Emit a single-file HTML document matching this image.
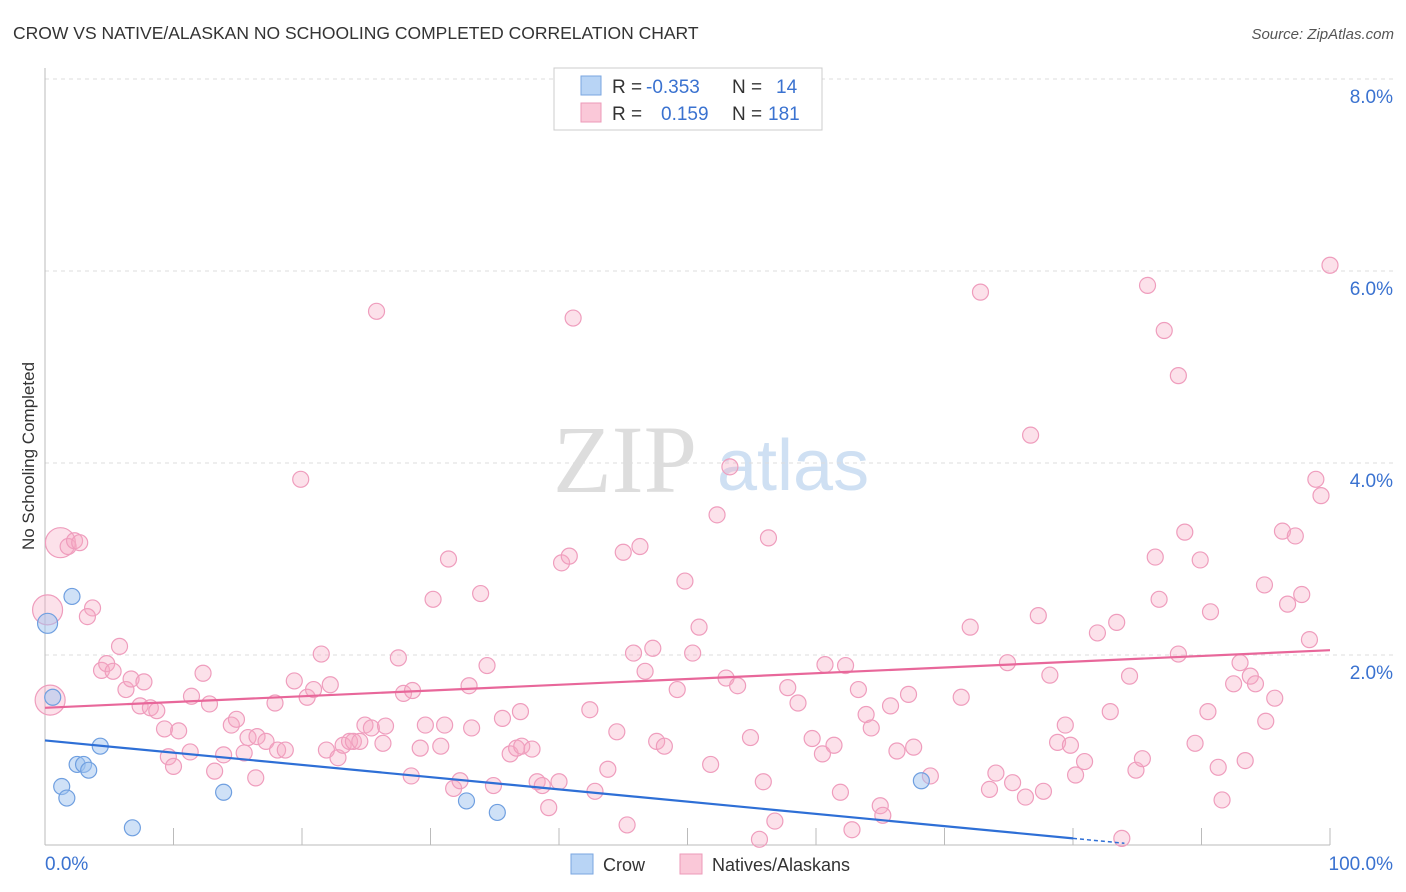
<!DOCTYPE html>
<html><head><meta charset="utf-8"><style>
body{margin:0;background:#fff;font-family:"Liberation Sans",sans-serif;}
svg{display:block}
</style></head><body>
<svg id="chart" width="1406" height="892" xmlns="http://www.w3.org/2000/svg">
<text x="13" y="39" font-size="17.5" fill="#333">CROW VS NATIVE/ALASKAN NO SCHOOLING COMPLETED CORRELATION CHART</text>
<text x="1394" y="39" font-size="15" fill="#555" font-style="italic" text-anchor="end">Source: ZipAtlas.com</text>
<text transform="translate(34,456) rotate(-90)" font-size="17" fill="#333" text-anchor="middle">No Schooling Completed</text>
<g>
<text x="553" y="492" font-family="Liberation Serif,serif" font-size="96" fill="#ddd">ZIP</text>
<text x="717" y="490" font-size="72" fill="#cfe0f3">atlas</text>
</g>
<g id="grid"></g>
<g id="axes"></g>
<g id="pinkpts"></g>
<g id="bluepts"></g>
<g id="trends"></g>
<g>
<rect x="554" y="68" width="268" height="62" fill="#fff" stroke="#ccc"/>
<rect x="581" y="76" width="20" height="19" fill="#b8d4f5" stroke="#7aa6e0"/>
<rect x="581" y="103" width="20" height="19" fill="#fac8d8" stroke="#ec9ab8"/>
<text x="612" y="93" font-size="19" fill="#333">R =</text>
<text x="646" y="93" font-size="19" fill="#3a72d0">-0.353</text>
<text x="732" y="93" font-size="19" fill="#333">N =</text>
<text x="776" y="93" font-size="19" fill="#3a72d0">14</text>
<text x="612" y="120" font-size="19" fill="#333">R =</text>
<text x="661" y="120" font-size="19" fill="#3a72d0">0.159</text>
<text x="732" y="120" font-size="19" fill="#333">N =</text>
<text x="768" y="120" font-size="19" fill="#3a72d0">181</text>
</g>
<g>
<rect x="571" y="854" width="22" height="20" fill="#b8d4f5" stroke="#7aa6e0"/>
<text x="603" y="871" font-size="18" fill="#333">Crow</text>
<rect x="680" y="854" width="22" height="20" fill="#fac8d8" stroke="#ec9ab8"/>
<text x="712" y="871" font-size="18" fill="#333">Natives/Alaskans</text>
</g>
</svg>
<script>
const yTicks=[2,4,6,8];
const yTickLabels=["2.0%","4.0%","6.0%","8.0%"];
const xTickLabels=["0.0%","100.0%"];
const crowX=[0.2,0.6,2.1,1.3,1.7,2.5,3.0,3.4,4.3,6.8,13.9,32.8,35.2,68.2];
const crowY=[2.33,1.56,2.61,0.63,0.51,0.86,0.86,0.80,1.05,0.2,0.57,0.48,0.36,0.69];
const natX=[0.2,0.4,1.2,1.8,2.3,2.7,3.7,3.3,5.8,4.4,4.8,5.3,6.3,6.7,7.7,7.4,8.2,8.7,9.3,9.6,10.0,10.4,11.4,12.3,12.8,11.3,13.2,13.9,14.5,14.9,15.5,15.8,16.4,16.5,17.2,17.9,18.1,18.7,19.4,19.9,20.4,20.9,21.5,21.9,22.2,22.8,23.2,23.7,24.0,24.5,24.9,25.4,26.3,26.5,25.8,27.5,27.9,28.6,28.5,29.6,29.2,30.2,30.8,31.1,31.4,31.8,32.3,33.0,33.2,33.9,34.4,34.9,35.6,36.2,36.7,37.0,37.1,37.9,38.3,38.7,39.2,40.0,40.2,40.8,41.1,42.4,42.8,43.8,44.5,45.0,45.3,45.8,46.3,46.7,47.3,47.6,48.2,49.2,49.8,50.4,50.9,51.8,52.3,53.0,53.3,53.9,54.9,55.6,55.9,56.3,56.8,57.8,58.6,59.7,60.5,60.7,61.4,61.9,62.3,62.8,63.3,63.9,64.3,65.0,65.2,65.8,66.3,67.2,67.6,68.9,71.3,72.0,72.8,73.5,74.0,74.9,75.3,76.3,76.7,77.3,77.7,78.2,78.8,79.4,79.8,80.2,80.9,81.9,82.9,83.4,83.8,84.4,84.9,85.4,85.8,86.4,86.7,87.1,88.2,88.2,88.7,89.5,89.9,90.5,90.7,91.3,91.6,92.5,93.0,93.4,93.8,94.2,95.0,94.9,95.7,96.3,96.7,97.3,97.8,98.4,98.9,99.3,100.0];
const natY=[2.47,1.53,3.17,3.13,3.19,3.17,2.49,2.40,2.09,1.84,1.91,1.83,1.64,1.75,1.72,1.47,1.45,1.42,1.23,0.94,0.84,1.21,1.57,1.81,1.49,0.99,0.79,0.96,1.27,1.33,0.98,1.14,0.72,1.15,1.10,1.50,1.01,1.01,1.73,3.83,1.56,1.64,2.01,1.01,1.69,0.93,1.06,1.10,1.10,1.10,1.27,1.24,1.08,1.26,5.58,1.97,1.60,1.63,0.74,1.27,1.03,2.58,1.05,1.27,3.00,0.61,0.69,1.68,1.24,2.64,1.89,0.64,1.34,0.97,1.03,1.41,1.05,1.02,0.68,0.64,0.41,0.68,2.96,3.03,5.51,1.43,0.58,0.81,1.20,3.07,0.23,2.02,3.13,1.83,2.07,1.10,1.05,1.64,2.77,2.02,2.29,0.86,3.46,1.76,3.96,1.68,1.14,0.08,0.68,3.22,0.27,1.66,1.50,1.13,0.97,1.90,1.06,0.57,1.89,0.18,1.64,1.38,1.24,0.43,0.33,1.47,1.00,1.59,1.04,0.74,1.56,2.29,5.78,0.60,0.77,1.92,0.67,0.52,4.29,2.41,0.58,1.79,1.09,1.27,1.06,0.75,0.89,2.23,1.41,2.34,0.09,1.78,0.80,0.92,5.85,3.02,2.58,5.38,4.91,2.01,3.28,1.08,2.99,1.41,2.45,0.83,0.49,1.70,1.92,0.90,1.78,1.70,1.31,2.73,1.55,3.29,2.53,3.24,2.63,2.16,3.83,3.66,6.06];
const crowTrend=[1.11,0.09];      // y at x=0 and x=80 (solid), dashed beyond
const natTrend=[1.45,2.05];      // y at x=0 and x=100
const NS="http://www.w3.org/2000/svg";
const X=v=>45+v*12.85, Y=v=>847-v*96;
function mk(tag,attrs,parent){const e=document.createElementNS(NS,tag);for(const k in attrs)e.setAttribute(k,attrs[k]);document.getElementById(parent).appendChild(e);return e;}
yTicks.forEach((t,i)=>{
  let l=mk('line',{x1:45,x2:1393,y1:Y(t),y2:Y(t),stroke:'#ddd','stroke-dasharray':'4,4'},'grid');
  
  
  let tx=mk('text',{x:1393,y:Y(t)+24,'font-size':19,fill:'#3a72d0','text-anchor':'end'},'grid');
  tx.textContent=yTickLabels[i];
  
  
});
let ax=mk('line',{x1:45,x2:45,y1:68,y2:845,stroke:'#bbb'},'axes');


let bx=mk('line',{x1:45,x2:1330,y1:845,y2:845,stroke:'#bbb'},'axes');


for(let i=0;i<=10;i++){
  let t=mk('line',{x1:X(i*10),x2:X(i*10),y1:828,y2:845,stroke:'#bbb'},'axes');
  
  
}
[[0,'start',45],[100,'end',1393]].forEach((d,i)=>{
  let t=mk('text',{x:d[2],y:870,'font-size':19,fill:'#3a72d0','text-anchor':d[1]},'axes');
  t.textContent=xTickLabels[i];
  
  
});
natX.forEach((v,i)=>{
  const r=i<3?15:8;
  let c=mk('circle',{cx:X(v),cy:Y(natY[i]),r:r,fill:'rgba(246,168,196,0.35)',stroke:'#ef9dbd','stroke-width':1.2},'pinkpts');
  
  
});
crowX.forEach((v,i)=>{
  const r=i==0?10:8;
  let c=mk('circle',{cx:X(v),cy:Y(crowY[i]),r:r,fill:'rgba(160,196,240,0.5)',stroke:'#6f9fe0','stroke-width':1.2},'bluepts');
  
  
});
const cy=x=>crowTrend[0]+(crowTrend[1]-crowTrend[0])*x/80;
let tl=mk('line',{x1:X(0),y1:Y(cy(0)),x2:X(80),y2:Y(cy(80)),stroke:'#2e6fd6','stroke-width':2.2},'trends');


let td=mk('line',{x1:X(80),y1:Y(cy(80)),x2:X(84),y2:Y(cy(84)),stroke:'#2e6fd6','stroke-width':1.5,'stroke-dasharray':'4,3'},'trends');


let pl=mk('line',{x1:X(0),y1:Y(natTrend[0]),x2:X(100),y2:Y(natTrend[1]),stroke:'#e8679a','stroke-width':2.2},'trends');


</script>
</body></html>
